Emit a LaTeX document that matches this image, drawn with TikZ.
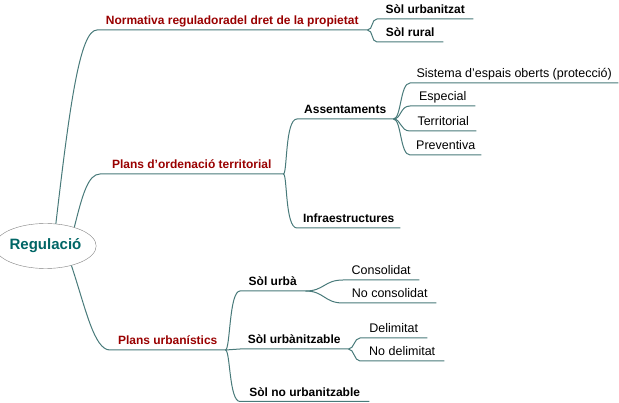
\documentclass[tikz,border=0pt]{standalone}
\usepackage{fontspec}
\setmainfont{Liberation Sans}
\usetikzlibrary{shapes.geometric}

\definecolor{linkteal}{RGB}{72,122,122}
\definecolor{rootteal}{RGB}{0,102,102}
\definecolor{rootgray}{RGB}{128,128,128}
\definecolor{topicred}{RGB}{153,0,0}

\begin{document}
\begin{tikzpicture}[
    x=1pt, y=-1pt, % coordenades en píxels, y cap avall
    % estils
    branch/.style={
        draw=linkteal,
        line width=1pt
    },
    rootnode/.style={
        ellipse,
        draw=rootgray,
        fill=white,
        minimum width=89pt,
        minimum height=45pt,
        inner sep=0pt,
        text=rootteal,
        font=\fontsize{15}{17}\selectfont\bfseries
    },
    topic/.style={
        anchor=south west,
        inner xsep=0pt,
        inner ysep=2pt,
        text height=10pt,
        text depth=3pt,
        text=topicred,
        font=\fontsize{12}{14}\selectfont\bfseries
    },
    subtopic/.style={topic, text=black},
    leaf/.style={topic, text=black, font=\fontsize{12.5}{14}\selectfont}
]
    \useasboundingbox (0,0) rectangle (619,403);

    % --- 1. Arrel ---
    \node[rootnode] (root) at (45.5,246) {Regulació};

    % --- 2. Primer nivell ---
    \node[topic, minimum width=270pt] (norm) at (97,30) {Normativa reguladoradel dret de la propietat};
    \node[topic, minimum width=183pt] (pot) at (100,174) {Plans d’ordenació territorial};
    \node[topic, minimum width=115pt] (pu) at (110,350) {Plans urbanístics};

    % --- 3. Normativa ---
    \node[subtopic, minimum width=96pt] (urbanitzat) at (377,19) {Sòl urbanitzat};
    \node[subtopic, minimum width=66pt] (rural) at (377,42) {Sòl rural};

    % --- 4. Plans d'ordenació territorial ---
    \node[subtopic, minimum width=96pt] (assent) at (297,119) {Assentaments};
    \node[subtopic, minimum width=103pt] (infra) at (297,228) {Infraestructures};
    \node[leaf, minimum width=208pt] (sistema) at (410,83) {Sistema d’espais oberts (protecció)};
    \node[leaf, minimum width=65pt] (especial) at (410,106) {Especial};
    \node[leaf, minimum width=66pt] (territorial) at (410,131) {Territorial};
    \node[leaf, minimum width=71pt] (preventiva) at (410,155) {Preventiva};

    % --- 5. Plans urbanístics ---
    \node[subtopic, minimum width=65pt] (urba) at (240,291) {Sòl urbà};
    \node[subtopic, minimum width=108pt] (urbz) at (240,349) {Sòl urbànitzable};
    \node[subtopic, minimum width=129pt] (nourbz) at (240,401.5) {Sòl no urbanitzable};
    \node[leaf, minimum width=76pt] (consolidat) at (343,280) {Consolidat};
    \node[leaf, minimum width=93pt] (noconsolidat) at (343,303) {No consolidat};
    \node[leaf, minimum width=67pt] (delimitat) at (360,338) {Delimitat};
    \node[leaf, minimum width=84pt] (nodelimitat) at (360,361) {No delimitat};

    % --- 6. Branques (corba + subratllat) ---
    \draw[branch] (root.65) .. controls +(14,-120) and +(-17,0) .. (norm.south west) -- (norm.south east);
    \draw[branch] (root.33) .. controls +(8,-32) and +(-12,0) .. (pot.south west) -- (pot.south east);
    \draw[branch] (root.-37) .. controls +(14,42) and +(-16,0) .. (pu.south west) -- (pu.south east);

    \draw[branch] (norm.south east) .. controls +(6,0) and +(-6,0) .. (urbanitzat.south west) -- (urbanitzat.south east);
    \draw[branch] (norm.south east) .. controls +(6,0) and +(-6,0) .. (rural.south west) -- (rural.south east);

    \draw[branch] (pot.south east) .. controls +(4,0) and +(-12,0) .. (assent.south west) -- (assent.south east);
    \draw[branch] (pot.south east) .. controls +(4,0) and +(-12,0) .. (infra.south west) -- (infra.south east);

    \draw[branch] (assent.south east) .. controls +(8,0) and +(-10,0) .. (sistema.south west) -- (sistema.south east);
    \draw[branch] (assent.south east) .. controls +(8,0) and +(-10,0) .. (especial.south west) -- (especial.south east);
    \draw[branch] (assent.south east) .. controls +(8,0) and +(-10,0) .. (territorial.south west) -- (territorial.south east);
    \draw[branch] (assent.south east) .. controls +(8,0) and +(-10,0) .. (preventiva.south west) -- (preventiva.south east);

    \draw[branch] (pu.south east) .. controls +(5,0) and +(-11,0) .. (urba.south west) -- (urba.south east);
    \draw[branch] (pu.south east) -- (urbz.south west) -- (urbz.south east);
    \draw[branch] (pu.south east) .. controls +(5,0) and +(-11,0) .. (nourbz.south west) -- (nourbz.south east);

    \draw[branch] (urba.south east) .. controls +(19,0) and +(-19,0) .. (consolidat.south west) -- (consolidat.south east);
    \draw[branch] (urba.south east) .. controls +(19,0) and +(-19,0) .. (noconsolidat.south west) -- (noconsolidat.south east);

    \draw[branch] (urbz.south east) .. controls +(6,0) and +(-6,0) .. (delimitat.south west) -- (delimitat.south east);
    \draw[branch] (urbz.south east) .. controls +(6,0) and +(-6,0) .. (nodelimitat.south west) -- (nodelimitat.south east);

\end{tikzpicture}
\end{document}
